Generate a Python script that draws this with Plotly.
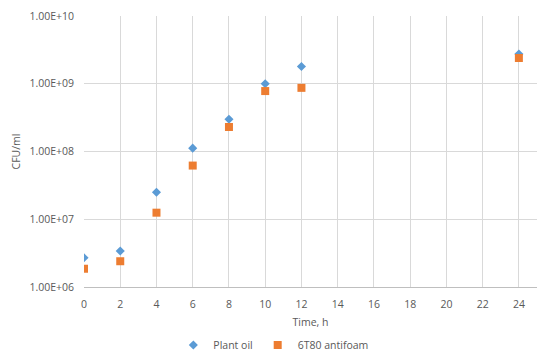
import plotly.graph_objects as go

time_h = [0, 2, 4, 6, 8, 10, 12, 24]
plant_oil = [2.7e6, 3.4e6, 2.5e7, 1.12e8, 3.0e8, 1.0e9, 1.8e9, 2.75e9]
antifoam_6t80 = [1.86e6, 2.4e6, 1.25e7, 6.2e7, 2.3e8, 7.8e8, 8.7e8, 2.4e9]
x_ticks = list(range(0, 26, 2))
y_ticks = [1e6, 1e7, 1e8, 1e9, 1e10]
y_tick_labels = ["1.00E+06", "1.00E+07", "1.00E+08", "1.00E+09", "1.00E+10"]

font = dict(family="Open Sans, Lato, sans-serif", size=10.5, color="#595959")

fig = go.Figure()
fig.add_trace(go.Scatter(x=time_h, y=plant_oil, mode="markers", name="Plant oil",
                         marker=dict(symbol="diamond", size=7, color="#5B9BD5")))
fig.add_trace(go.Scatter(x=time_h, y=antifoam_6t80, mode="markers", name="6T80 antifoam",
                         marker=dict(symbol="square", size=8, color="#ED7D31")))

fig.update_layout(
    width=542, height=356,
    margin=dict(l=76, r=13, t=8, b=77, autoexpand=False),
    paper_bgcolor="white", plot_bgcolor="white",
    font=font,
    showlegend=True,
    legend=dict(orientation="h", x=0.418, xanchor="center", y=-0.214, yanchor="middle",
                font=font, itemwidth=30, tracegroupgap=0),
    xaxis=dict(range=[0, 25], tickvals=x_ticks, showgrid=True, gridcolor="#D9D9D9",
               gridwidth=1, showline=True, linecolor="#BFBFBF", zeroline=False,
               ticks="", ticklabelstandoff=7, automargin=False,
               title=dict(text="Time, h", font=font, standoff=9)),
    yaxis=dict(type="log", range=[6, 10], tickvals=y_ticks, ticktext=y_tick_labels,
               showgrid=True, gridcolor="#D9D9D9", gridwidth=1, zeroline=False,
               showline=False, ticks="", ticklabelstandoff=9, automargin=False,
               title=dict(text="CFU/ml", font=font, standoff=6)),
)

fig.write_html("out.html")
